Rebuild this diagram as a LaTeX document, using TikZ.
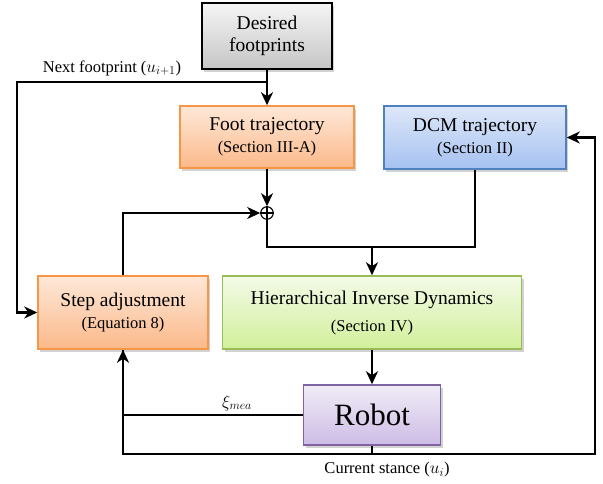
\documentclass[tikz,border=0pt]{standalone}
\usepackage{fontspec}
\setmainfont{Liberation Serif}
\usetikzlibrary{shadows,arrows.meta}

\definecolor{orgline}{HTML}{F79646}
\definecolor{orgtop}{HTML}{FEE8D8}
\definecolor{orgbot}{HTML}{FBB98A}
\definecolor{blueline}{HTML}{4F81BD}
\definecolor{bluetop}{HTML}{DDE7F8}
\definecolor{bluebot}{HTML}{A6C2F2}
\definecolor{greenline}{HTML}{9BBB59}
\definecolor{greentop}{HTML}{F3FAE8}
\definecolor{greenbot}{HTML}{D2F09A}
\definecolor{purpline}{HTML}{8064A2}
\definecolor{purptop}{HTML}{F0ECF6}
\definecolor{purpbot}{HTML}{CDBCE6}

\tikzset{
  blk/.style={draw, line width=1.5pt, align=center, inner sep=0pt,
    font=\fontsize{19.5}{22}\selectfont,
    drop shadow={shadow xshift=2pt, shadow yshift=-2.5pt, opacity=0.25, fill=black!70}},
  flow/.style={line width=2.3pt, -{Stealth[length=13pt,width=12pt,inset=4pt]}},
  wire/.style={line width=2.3pt},
  lbl/.style={font=\fontsize{16.5}{19}\selectfont}
}
\newcommand{\subtxt}[1]{{\fontsize{16.5}{19}\selectfont #1}}

\begin{document}
\begin{tikzpicture}[x=1pt, y=-1pt]
\useasboundingbox (0,0) rectangle (603,483);

% blocks
\node[blk, top color=gray!8, bottom color=gray!45, draw=black,
  minimum width=130pt, minimum height=66pt] (desired) at (267,36) {Desired\\footprints};
\node[blk, top color=orgtop, bottom color=orgbot, draw=orgline,
  minimum width=174pt, minimum height=62pt] (foot) at (267,137) {Foot trajectory\\\subtxt{(Section III-A)}};
\node[blk, top color=bluetop, bottom color=bluebot, draw=blueline,
  minimum width=182pt, minimum height=63pt] (dcm) at (475,137.5) {DCM trajectory\\\subtxt{(Section II)}};
\node[blk, top color=orgtop, bottom color=orgbot, draw=orgline,
  minimum width=170pt, minimum height=73pt] (step) at (123,312.5) {Step adjustment\\\subtxt{(Equation 8)}};
\node[blk, top color=greentop, bottom color=greenbot, draw=greenline,
  minimum width=299pt, minimum height=73pt] (hier) at (372,312.5) {Hierarchical Inverse Dynamics\\[5pt]\subtxt{(Section IV)}};
\node[blk, top color=purptop, bottom color=purpbot, draw=purpline,
  minimum width=137pt, minimum height=60pt, font=\fontsize{31}{34}\selectfont] (robot) at (372,415) {Robot};

% summing junction
\node[draw, circle, line width=1.1pt, minimum size=12.5pt, inner sep=0pt] (sum) at (267,213) {};
\draw[line width=1.1pt] (sum.north) -- (sum.south);
\draw[line width=1.1pt] (sum.west) -- (sum.east);

% bend points
\coordinate (split) at (267,82);
\coordinate (lft) at (17,82);
\coordinate (mrg) at (372,247);
\coordinate (bot) at (372,454);
\coordinate (rgt) at (595,454);

% connectors
\draw[flow] (desired.south) -- (foot.north);
\draw[flow] (split) -- (lft) |- (step.west);
\node[lbl] (nextlbl) at (112,68) {Next footprint ($u_{i+1}$)};

\draw[flow] (foot.south) -- (sum.north);
\draw[flow] (step.north) |- (sum.west);

\draw[wire] (sum.south) |- (mrg);
\draw[wire] (dcm.south) |- (mrg);
\draw[flow] (mrg) -- (hier.north);

\draw[flow] (hier.south) -- (robot.north);

\draw[flow] (robot.west) -| (step.south);
\node[lbl] (xilbl) at (237,403) {$\xi_{mea}$};

\draw[wire] (robot.south) -- (bot);
\draw[wire] (bot) -| (step.south);
\draw[flow] (bot) -- (rgt) |- (dcm.east);
\node[lbl] (curlbl) at (387,470) {Current stance ($u_i$)};

\end{tikzpicture}
\end{document}
